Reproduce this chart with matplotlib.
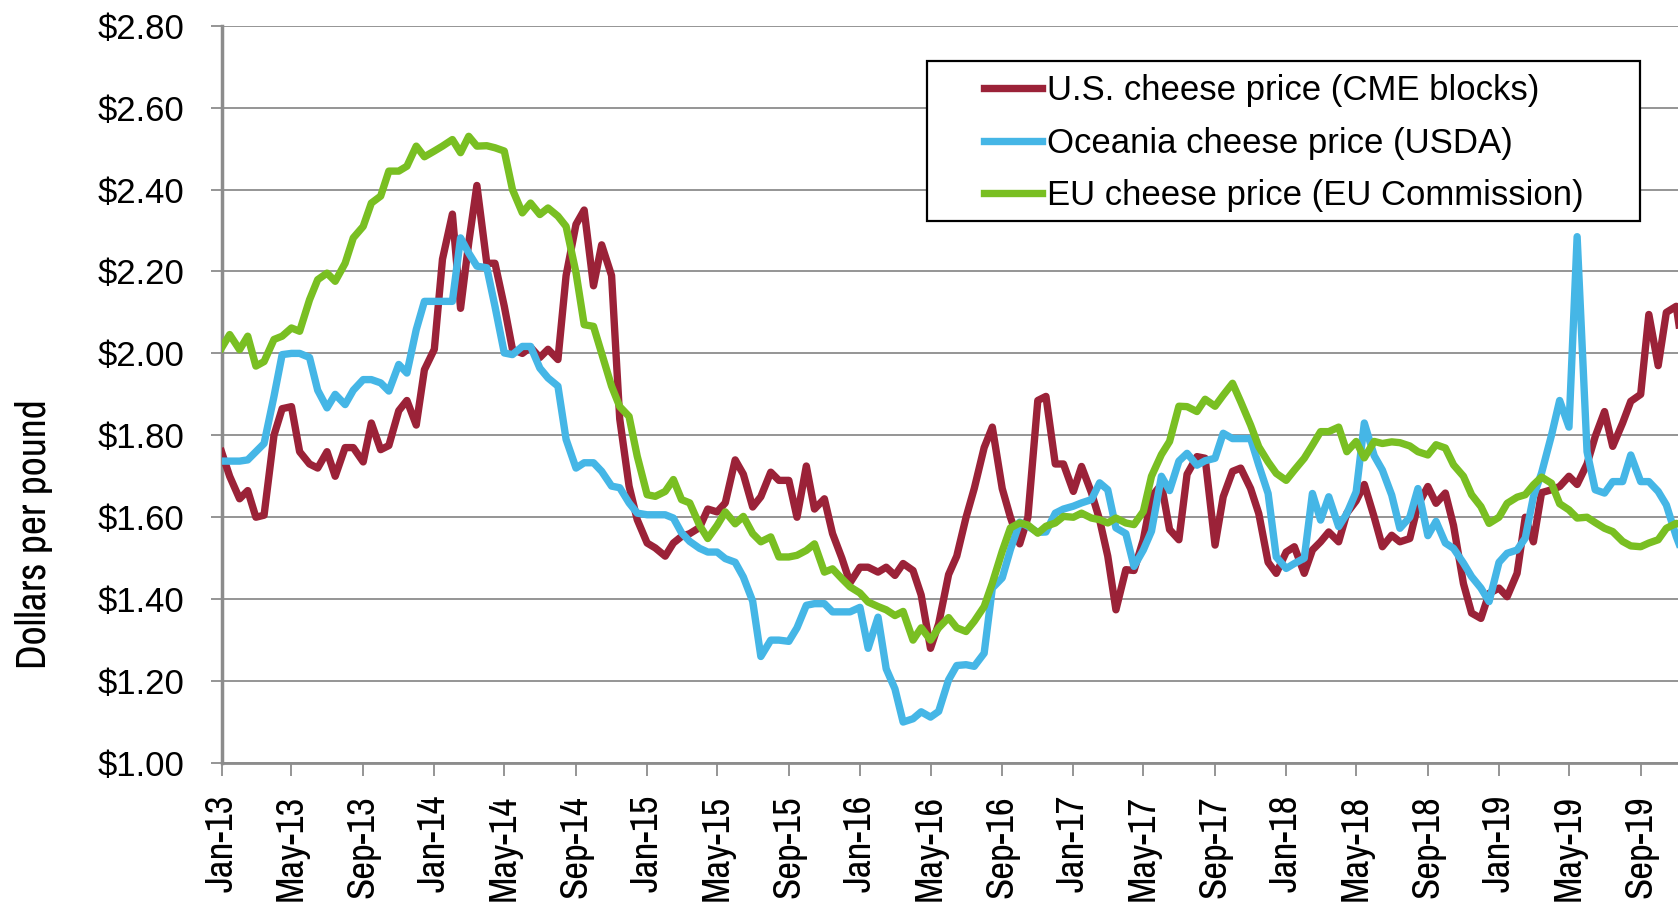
import os
import numpy as np
import pandas as pd
import matplotlib
matplotlib.use('Agg')
import matplotlib.pyplot as plt
import matplotlib.dates as mdates
from matplotlib import font_manager as fm
from matplotlib.patches import Rectangle
from matplotlib.ticker import FuncFormatter, MultipleLocator

# semi-monthly observations, Jan 2013 onwards
dates = pd.date_range('2013-01-01', periods=166, freq='SMS')

us_cme = [
    1.76, 1.70, 1.645, 1.665, 1.60, 1.605, 1.80, 1.865, 1.87, 1.76,
    1.73, 1.72, 1.76, 1.70, 1.77, 1.77, 1.735, 1.83, 1.765, 1.775,
    1.86, 1.885, 1.825, 1.96, 2.01, 2.23, 2.34, 2.11, 2.27, 2.41,
    2.22, 2.22, 2.115, 2.01, 2.00, 2.015, 1.99, 2.01, 1.985, 2.19,
    2.315, 2.35, 2.165, 2.265, 2.19, 1.84, 1.676, 1.594, 1.537, 1.525,
    1.505, 1.537, 1.553, 1.56, 1.575, 1.62, 1.613, 1.635, 1.74, 1.705,
    1.625, 1.65, 1.71, 1.69, 1.69, 1.60, 1.725, 1.62, 1.645, 1.56,
    1.50, 1.44, 1.478, 1.478, 1.466, 1.478, 1.458, 1.487, 1.47, 1.41,
    1.28, 1.34, 1.46, 1.505, 1.60, 1.67, 1.77, 1.82, 1.67, 1.60,
    1.535, 1.60, 1.885, 1.895, 1.73, 1.73, 1.663, 1.724, 1.66, 1.594,
    1.505, 1.374, 1.472, 1.47, 1.545, 1.65, 1.68, 1.57, 1.545, 1.705,
    1.748, 1.744, 1.532, 1.65, 1.712, 1.72, 1.67, 1.609, 1.49, 1.463,
    1.515, 1.528, 1.463, 1.52, 1.54, 1.564, 1.54, 1.61, 1.64, 1.68,
    1.60, 1.528, 1.556, 1.54, 1.548, 1.63, 1.675, 1.634, 1.659, 1.58,
    1.438, 1.366, 1.353, 1.414, 1.427, 1.406, 1.463, 1.60, 1.54, 1.66,
    1.667, 1.675, 1.70, 1.68, 1.73, 1.797, 1.858, 1.773, 1.83, 1.883,
    1.90, 2.095, 1.97, 2.10, 2.115, 1.98,
]

oceania = [
    1.737, 1.737, 1.737, 1.74, 1.76, 1.78, 1.895, 1.997, 2.00, 2.00,
    1.99, 1.91, 1.867, 1.90, 1.875, 1.91, 1.936, 1.936, 1.928, 1.908,
    1.973, 1.952, 2.058, 2.127, 2.127, 2.127, 2.127, 2.282, 2.245, 2.213,
    2.209, 2.115, 2.001, 1.997, 2.017, 2.017, 1.964, 1.94, 1.92, 1.79,
    1.72, 1.733, 1.733, 1.712, 1.676, 1.672, 1.635, 1.61, 1.606, 1.606,
    1.606, 1.598, 1.562, 1.541, 1.524, 1.515, 1.515, 1.499, 1.49, 1.454,
    1.395, 1.26, 1.30, 1.30, 1.297, 1.33, 1.385, 1.389, 1.389, 1.369,
    1.369, 1.369, 1.38, 1.28, 1.356, 1.23, 1.181, 1.10, 1.108, 1.125,
    1.112, 1.126, 1.203, 1.238, 1.24, 1.236, 1.268, 1.427, 1.452, 1.521,
    1.588, 1.578, 1.563, 1.564, 1.61, 1.62, 1.627, 1.635, 1.643, 1.684,
    1.667, 1.574, 1.56, 1.48, 1.52, 1.566, 1.70, 1.665, 1.737, 1.756,
    1.727, 1.738, 1.744, 1.805, 1.792, 1.792, 1.792, 1.727, 1.658, 1.503,
    1.475, 1.487, 1.50, 1.658, 1.593, 1.65, 1.577, 1.609, 1.662, 1.83,
    1.75, 1.715, 1.654, 1.573, 1.60, 1.67, 1.555, 1.59, 1.537, 1.524,
    1.488, 1.455, 1.427, 1.394, 1.49, 1.512, 1.52, 1.549, 1.65, 1.708,
    1.80, 1.885, 1.82, 2.285, 1.76, 1.667, 1.659, 1.687, 1.687, 1.752,
    1.687, 1.687, 1.663, 1.63, 1.553, 1.50,
]

eu_comm = [
    2.013, 2.046, 2.009, 2.042, 1.969, 1.98, 2.034, 2.042, 2.062, 2.054,
    2.131, 2.18, 2.196, 2.176, 2.22, 2.282, 2.31, 2.367, 2.384, 2.445,
    2.445, 2.457, 2.506, 2.48, 2.494, 2.506, 2.522, 2.49, 2.53, 2.506,
    2.507, 2.502, 2.494, 2.40, 2.343, 2.367, 2.339, 2.355, 2.335, 2.31,
    2.197, 2.07, 2.066, 2.00, 1.92, 1.87, 1.846, 1.749, 1.655, 1.651,
    1.663, 1.692, 1.643, 1.635, 1.58, 1.548, 1.58, 1.613, 1.584, 1.602,
    1.56, 1.54, 1.552, 1.503, 1.503, 1.507, 1.519, 1.535, 1.466, 1.474,
    1.45, 1.43, 1.415, 1.393, 1.382, 1.374, 1.36, 1.37, 1.30, 1.33,
    1.30, 1.33, 1.355, 1.33, 1.321, 1.346, 1.382, 1.439, 1.517, 1.574,
    1.586, 1.581, 1.561, 1.578, 1.586, 1.602, 1.60, 1.61, 1.598, 1.594,
    1.586, 1.598, 1.586, 1.582, 1.614, 1.70, 1.753, 1.785, 1.871, 1.87,
    1.858, 1.888, 1.871, 1.898, 1.927, 1.882, 1.825, 1.772, 1.735, 1.707,
    1.69, 1.715, 1.744, 1.776, 1.809, 1.809, 1.82, 1.76, 1.785, 1.745,
    1.785, 1.78, 1.784, 1.782, 1.774, 1.76, 1.752, 1.777, 1.769, 1.728,
    1.70, 1.655, 1.626, 1.585, 1.60, 1.634, 1.649, 1.655, 1.679, 1.698,
    1.683, 1.633, 1.618, 1.598, 1.60, 1.587, 1.573, 1.565, 1.541, 1.53,
    1.528, 1.537, 1.545, 1.573, 1.585, 1.58,
]

labels = ['U.S. cheese price (CME blocks)', 'Oceania cheese price (USDA)',
          'EU cheese price (EU Commission)']
colors = ['#9b2238', '#45b6e6', '#79bf22']


# the axis labels use a narrow face if one is around
def narrow_font():
    for f in fm.fontManager.ttflist:
        base = os.path.basename(f.fname).lower()
        if ('narrow' in base and 'bold' not in base and 'italic' not in base):
            return f.fname
    return None


nf = narrow_font()
if nf:
    xtick_fp = fm.FontProperties(fname=nf, size=28)
    ylab_fp = fm.FontProperties(fname=nf, size=30)
else:
    xtick_fp = fm.FontProperties(family='Liberation Sans', size=24)
    ylab_fp = fm.FontProperties(family='Liberation Sans', size=25.5)

W, H = 1678, 905
fig = plt.figure(figsize=(W / 100, H / 100), dpi=100)
ax = fig.add_axes([221.5 / W, 1 - 763 / H, 1 - 221.5 / W, (763 - 25.7) / H])

for vals, lab, col in zip([us_cme, oceania, eu_comm], labels, colors):
    ax.plot(dates, vals, color=col, lw=5.3, label=lab, solid_joinstyle='round',
            zorder=3)

ax.set_ylim(1.0, 2.8)
ax.yaxis.set_major_locator(MultipleLocator(0.2))
ax.yaxis.set_major_formatter(FuncFormatter(lambda v, p: f'${v:.2f}'))
ax.set_xlim(pd.Timestamp('2013-01-01'), pd.Timestamp('2019-11-04'))
ax.xaxis.set_major_locator(mdates.MonthLocator(bymonth=[1, 5, 9]))
ax.xaxis.set_major_formatter(mdates.DateFormatter('%b-%y'))

gray = '#8c8c8c'
ax.yaxis.grid(True, color=gray, lw=1.3, zorder=1)
ax.set_axisbelow(True)
for s in ['right', 'top']:
    ax.spines[s].set_visible(False)
ax.spines['left'].set_color(gray)
ax.spines['left'].set_linewidth(2.5)
ax.spines['bottom'].set_color(gray)
ax.spines['bottom'].set_linewidth(2.0)

ax.tick_params(axis='y', length=8, width=1.3, color=gray, pad=19,
               labelsize=25)
ax.tick_params(axis='x', length=9, width=1.3, color=gray, pad=14,
               labelrotation=90)
for t in ax.get_yticklabels():
    t.set_family(['Liberation Sans', 'DejaVu Sans'])
for t in ax.get_xticklabels():
    t.set_fontproperties(xtick_fp)

fig.text(34 / W, 1 - 534 / H, 'Dollars per pound', rotation=90, ha='center',
         va='center', fontproperties=ylab_fp)

# legend box
ax.add_patch(Rectangle((927 / W, 1 - 221.5 / H), 713 / W, 160.5 / H,
                       transform=fig.transFigure, facecolor='white',
                       edgecolor='black', lw=1.6, zorder=4, clip_on=False))
leg = ax.legend(loc='upper left', bbox_to_anchor=(967 / W, 1 - 57 / H),
                bbox_transform=fig.transFigure, frameon=False, borderpad=0,
                handlelength=1.67, handletextpad=0.12, labelspacing=0.56,
                prop={'family': ['Liberation Sans'], 'size': 25})
leg.set_zorder(6)

fig.savefig('out.png', dpi=100)
